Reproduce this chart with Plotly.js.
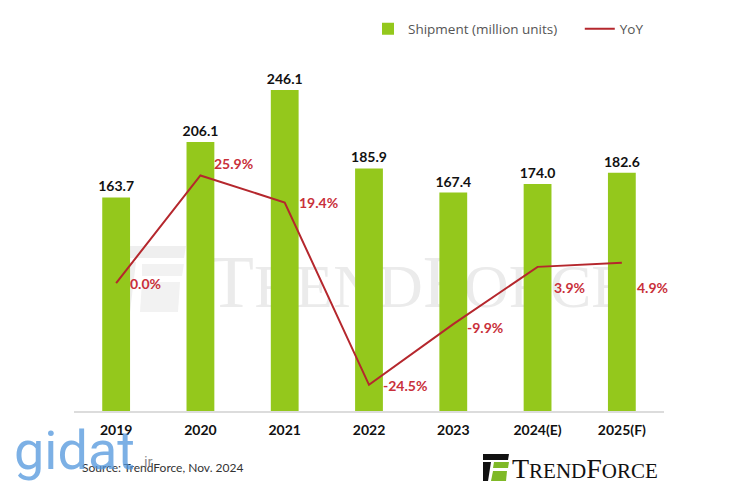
<!DOCTYPE html>
<html>
<head>
<meta charset="utf-8">
<script src="https://cdn.plot.ly/plotly-3.0.1.min.js"></script>
<style>
  html, body { margin: 0; padding: 0; background: #fff; }
  #chart { width: 740px; height: 492px; }
</style>
</head>
<body>
<div id="chart"></div>
<script>
// data
const years = ['2019', '2020', '2021', '2022', '2023', '2024(E)', '2025(F)'];
const shipments = [163.7, 206.1, 246.1, 185.9, 167.4, 174.0, 182.6]; // million units
const yoy = [0.0, 25.9, 19.4, -24.5, -9.9, 3.9, 4.9]; // %

// label nudges for the YoY labels (pixels)
const yoyShiftX = [12, 12, 12, 12, 12, 14, 13];
const yoyShiftY = [0, 12, 0, -1, -3, -21, -25];

const green = '#94c81c';
const lineRed = '#b5272d';
const labelRed = '#c9303a';

// plot area in pixels, used to place the decorations
const plotL = 74, plotR = 664, plotT = 60, plotB = 411;
function px(x) { return (x - plotL) / (plotR - plotL); }
function py(y) { return (plotB - y) / (plotB - plotT); }
function path(pts) {
  return 'M' + pts.map(p => px(p[0]) + ',' + py(p[1])).join('L') + 'Z';
}

const bars = {
  type: 'bar',
  // trailing no-break spaces widen the gap before the YoY entry
  name: 'Shipment (million units)\u00a0\u00a0\u00a0\u00a0\u00a0',
  x: years,
  y: shipments,
  width: 0.33,
  marker: { color: green },
  texttemplate: '%{y:.1f}',
  textposition: 'outside',
  constraintext: 'none',
  textfont: { family: 'Lato', size: 14, color: '#111', weight: 'bold' },
  cliponaxis: false,
  hoverinfo: 'skip'
};

const line = {
  type: 'scatter',
  mode: 'lines',
  name: 'YoY',
  x: years,
  y: yoy,
  yaxis: 'y2',
  line: { color: lineRed, width: 2 },
  hoverinfo: 'skip'
};

// category index keeps '2019' from being read as the number 2019
const annotations = yoy.map((v, i) => ({
  x: i,
  y: v,
  xref: 'x',
  yref: 'y2',
  text: v.toFixed(1) + '%',
  showarrow: false,
  xanchor: 'left',
  yanchor: 'middle',
  xshift: yoyShiftX[i],
  yshift: yoyShiftY[i],
  font: { family: 'Lato', size: 14, color: labelRed, weight: 'bold' }
}));

annotations.push({
  xref: 'paper', yref: 'paper',
  x: px(80), y: py(467),
  xanchor: 'left', yanchor: 'middle',
  text: 'Source: TrendForce, Nov. 2024',
  showarrow: false,
  font: { family: 'Lato', size: 12, color: '#333' }
});

annotations.push({
  xref: 'paper', yref: 'paper',
  x: px(510), y: py(468),
  xanchor: 'left', yanchor: 'middle',
  text: 'T<span style="font-size:21px">REND</span>F<span style="font-size:21px">ORCE</span>',
  showarrow: false,
  font: { family: 'Liberation Serif', size: 28, color: '#111' }
});

// gidat.ir overlay watermark
annotations.push({
  xref: 'paper', yref: 'paper',
  x: px(12), y: py(450),
  xanchor: 'left', yanchor: 'middle',
  text: 'gidat',
  showarrow: false,
  font: { family: 'Roboto', size: 54, color: 'rgba(80,150,220,0.75)' }
});
annotations.push({
  xref: 'paper', yref: 'paper',
  x: px(138), y: py(462),
  xanchor: 'left', yanchor: 'middle',
  text: '.ir',
  showarrow: false,
  font: { family: 'Roboto', size: 15, color: 'rgba(110,110,110,0.8)' }
});

const shapes = [
  // faint TrendForce watermark behind the bars
  {
    type: 'rect', xref: 'paper', yref: 'paper', layer: 'below',
    x0: px(214), x1: px(624), y0: py(310), y1: py(238),
    line: { width: 0 }, fillcolor: 'rgba(0,0,0,0)',
    label: {
      text: 'T<span style="font-size:62px">REND</span>F<span style="font-size:62px">ORCE</span>',
      textposition: 'middle center',
      font: { family: 'Liberation Serif', size: 74, color: '#ebebeb' }
    }
  },
  { type: 'path', xref: 'paper', yref: 'paper', layer: 'below', line: { width: 0 }, fillcolor: '#efefef',
    path: path([[118, 246], [186, 246], [184, 258], [118, 258]]) },
  { type: 'path', xref: 'paper', yref: 'paper', layer: 'below', line: { width: 0 }, fillcolor: '#efefef',
    path: path([[118, 262], [136, 262], [130, 312], [118, 312]]) },
  { type: 'path', xref: 'paper', yref: 'paper', layer: 'below', line: { width: 0 }, fillcolor: '#f2f2f2',
    path: path([[142, 264], [184, 264], [182, 276], [142, 276]]) },
  { type: 'path', xref: 'paper', yref: 'paper', layer: 'below', line: { width: 0 }, fillcolor: '#f2f2f2',
    path: path([[142, 282], [180, 282], [178, 312], [140, 312]]) },
  // TrendForce logo icon, bottom right
  { type: 'path', xref: 'paper', yref: 'paper', line: { width: 0 }, fillcolor: '#111',
    path: path([[483, 454], [509, 454], [508, 460], [483, 460]]) },
  { type: 'path', xref: 'paper', yref: 'paper', line: { width: 0 }, fillcolor: '#111',
    path: path([[483, 462], [491, 462], [488, 481], [483, 481]]) },
  { type: 'path', xref: 'paper', yref: 'paper', line: { width: 0 }, fillcolor: '#7fb927',
    path: path([[494, 462], [509, 462], [508, 468], [493, 468]]) },
  { type: 'path', xref: 'paper', yref: 'paper', line: { width: 0 }, fillcolor: '#7fb927',
    path: path([[493, 471], [507, 471], [506, 481], [491, 481]]) }
];

const layout = {
  width: 740,
  height: 492,
  margin: { l: plotL, r: 740 - plotR, t: plotT, b: 492 - plotB, autoexpand: false },
  paper_bgcolor: '#ffffff',
  plot_bgcolor: 'rgba(0,0,0,0)',
  font: { family: 'Lato', color: '#111' },
  showlegend: true,
  legend: {
    orientation: 'h',
    xref: 'container', yref: 'container',
    x: 368 / 740, y: 1 - 29 / 492,
    xanchor: 'left', yanchor: 'middle',
    font: { family: 'Open Sans', size: 13.5, color: '#555' },
    bgcolor: 'rgba(0,0,0,0)'
  },
  xaxis: {
    type: 'category',
    categoryorder: 'array',
    categoryarray: years,
    range: [-0.5, years.length - 0.5],
    showline: true,
    linecolor: '#dcdcdc',
    linewidth: 1.5,
    ticks: '',
    showgrid: false,
    tickfont: { family: 'Lato', size: 14, color: '#111', weight: 'bold' },
    ticklabelstandoff: 6
  },
  yaxis: {
    range: [0, 269],
    visible: false,
    showgrid: false,
    zeroline: false,
    fixedrange: true
  },
  yaxis2: {
    range: [-30.8, 53.7],
    overlaying: 'y',
    side: 'right',
    visible: false,
    showgrid: false,
    zeroline: false
  },
  annotations: annotations,
  shapes: shapes
};

Plotly.newPlot('chart', [bars, line], layout, { staticPlot: true, displayModeBar: false });
</script>
</body>
</html>
